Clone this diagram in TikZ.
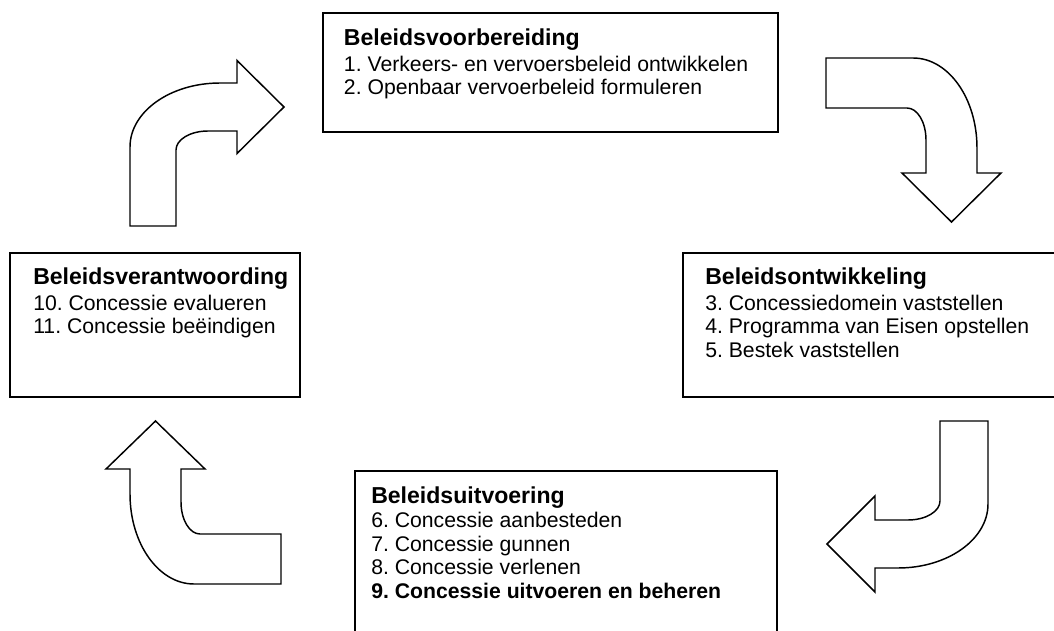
\documentclass[tikz,border=0pt]{standalone}
\usepackage{fontspec}
\setmainfont{Liberation Sans}
\usetikzlibrary{calc}
\frenchspacing
\tikzset{
  boxframe/.style={draw=black, line width=1.5pt, fill=white},
  bentarrow/.style={draw=black, line width=1.1pt, fill=white, line join=miter},
  ttl/.style={anchor=base west, inner sep=0pt, font=\fontsize{17.3}{20}\selectfont\bfseries},
  itm/.style={anchor=base west, inner sep=0pt, font=\fontsize{15.9}{19}\selectfont},
  itmb/.style={anchor=base west, inner sep=0pt, font=\fontsize{15.9}{19}\selectfont\bfseries},
}
\begin{document}
\begin{tikzpicture}[x=0.75pt, y=-0.75pt]
\useasboundingbox (0,0) rectangle (1054,631);
\clip (0,0) rectangle (1054,631);
\fill[white] (0,0) rectangle (1054,631);

% boxes
\draw[boxframe] (323,13) rectangle (778,132);
\node[inner sep=0pt, minimum size=0pt] (topbox) at (550.5,72.5) {};
\draw[boxframe] (10,253) rectangle (300,397);
\node[inner sep=0pt, minimum size=0pt] (leftbox) at (155,325) {};
\draw[boxframe] (683,253) rectangle (1100,397);
\node[inner sep=0pt, minimum size=0pt] (rightbox) at (890,325) {};
\draw[boxframe] (355,470.7) rectangle (777,700);
\node[inner sep=0pt, minimum size=0pt] (bottombox) at (566,560) {};

% texts
\node[ttl] (t1) at (343.7,45.7) {Beleidsvoorbereiding};
\node[itm] (t1a) at (343.7,71.3) {1. Verkeers- en vervoersbeleid ontwikkelen};
\node[itm] (t1b) at (343.7,94.7) {2. Openbaar vervoerbeleid formuleren};

\node[ttl] (t2) at (33,285) {Beleidsverantwoording};
\node[itm] (t2a) at (33,310.5) {10. Concessie evalueren};
\node[itm] (t2b) at (33,334) {11. Concessie beëindigen};

\node[ttl] (t3) at (705,285) {Beleidsontwikkeling};
\node[itm] (t3a) at (705,310.5) {3. Concessiedomein vaststellen};
\node[itm] (t3b) at (705,334) {4. Programma van Eisen opstellen};
\node[itm] (t3c) at (705,357.5) {5. Bestek vaststellen};

\node[ttl] (t4) at (371,503) {Beleidsuitvoering};
\node[itm] (t4a) at (371,527.5) {6. Concessie aanbesteden};
\node[itm] (t4b) at (371,551) {7. Concessie gunnen};
\node[itm] (t4c) at (371,574.5) {8. Concessie verlenen};
\node[itmb] (t4d) at (371,598) {9. Concessie uitvoeren en beheren};

% arrow 1: up then right
\draw[bentarrow] (130,226) -- (130,147)
  .. controls ($(130,147)!0.5523!(130,83)$) and ($(220,83)!0.5523!(130,83)$) .. (220,83)
  -- (237,83) -- (237,60.5) -- (284,107) -- (237,153.5) -- (237,131) -- (208,131)
  .. controls ($(208,131)!0.5523!(176,131)$) and ($(176,150)!0.5523!(176,131)$) .. (176,150)
  -- (176,226) -- cycle;

% arrow 2: right then down
\draw[bentarrow] (826,58) -- (913,58)
  .. controls ($(913,58)!0.5523!(977,58)$) and ($(977,148)!0.5523!(977,58)$) .. (977,148)
  -- (977,173) -- (1001,173) -- (951.5,222) -- (902,173) -- (926,173) -- (926,140)
  .. controls ($(926,140)!0.5523!(926,108)$) and ($(907,108)!0.5523!(926,108)$) .. (907,108)
  -- (826,108) -- cycle;

% arrow 3: down then left
\draw[bentarrow] (988,421) -- (988,504)
  .. controls ($(988,504)!0.5523!(988,568)$) and ($(898,568)!0.5523!(988,568)$) .. (898,568)
  -- (875,568) -- (875,592) -- (827,544) -- (875,496) -- (875,520) -- (908,520)
  .. controls ($(908,520)!0.5523!(940,520)$) and ($(940,501)!0.5523!(940,520)$) .. (940,501)
  -- (940,421) -- cycle;

% arrow 4: left then up
\draw[bentarrow] (281,584) -- (194,584)
  .. controls ($(194,584)!0.5523!(130,584)$) and ($(130,494)!0.5523!(130,584)$) .. (130,494)
  -- (130,469) -- (106,469) -- (155.5,421) -- (205,469) -- (181,469) -- (181,502)
  .. controls ($(181,502)!0.5523!(181,534)$) and ($(200,534)!0.5523!(181,534)$) .. (200,534)
  -- (281,534) -- cycle;
\end{tikzpicture}
\end{document}
